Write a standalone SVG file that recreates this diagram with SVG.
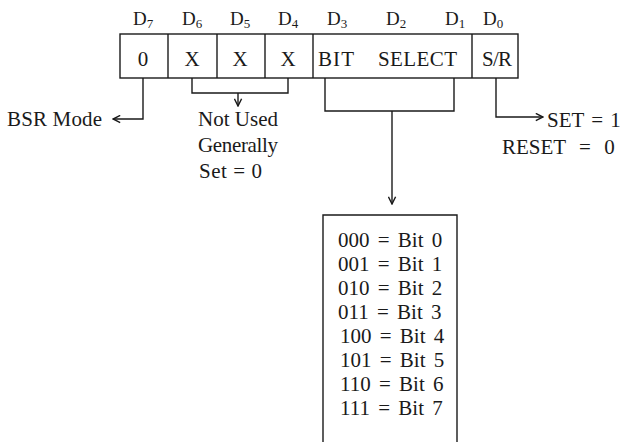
<svg xmlns="http://www.w3.org/2000/svg" width="623" height="442" viewBox="0 0 623 442">
<defs>
<style>
text{font-family:"Liberation Serif","Times New Roman",serif;fill:#1a1a1a;font-size:21px}
.d{font-size:19px}
.s{font-size:13px}
.c{text-anchor:middle}
.ln{fill:none;stroke:#1a1a1a;stroke-width:1.4}
.bits text{word-spacing:3px}
</style>
<marker id="ah" viewBox="0 0 10 10" refX="9" refY="5" markerWidth="9" markerHeight="9" markerUnits="userSpaceOnUse" orient="auto">
<path d="M1,1 L9,5 L1,9" fill="none" stroke="#1a1a1a" stroke-width="1.6"/>
</marker>
</defs>
<rect width="623" height="442" fill="#fff"/>
<g id="labels">
<text class="d" x="133" y="25">D<tspan class="s" dy="3">7</tspan></text>
<text class="d" x="182" y="25">D<tspan class="s" dy="3">6</tspan></text>
<text class="d" x="230" y="25">D<tspan class="s" dy="3">5</tspan></text>
<text class="d" x="278" y="25">D<tspan class="s" dy="3">4</tspan></text>
<text class="d" x="327" y="25">D<tspan class="s" dy="3">3</tspan></text>
<text class="d" x="386" y="25">D<tspan class="s" dy="3">2</tspan></text>
<text class="d" x="445" y="25">D<tspan class="s" dy="3">1</tspan></text>
<text class="d" x="483" y="25">D<tspan class="s" dy="3">0</tspan></text>
</g>
<g id="register">
<rect class="ln" x="120" y="34" width="398" height="44"/>
<line class="ln" x1="168" y1="34" x2="168" y2="78"/>
<line class="ln" x1="217" y1="34" x2="217" y2="78"/>
<line class="ln" x1="265" y1="34" x2="265" y2="78"/>
<line class="ln" x1="313" y1="34" x2="313" y2="78"/>
<line class="ln" x1="472" y1="34" x2="472" y2="78"/>
<text class="c" x="143" y="66">0</text>
<text class="c" x="192" y="66">X</text>
<text class="c" x="240" y="66">X</text>
<text class="c" x="288" y="66">X</text>
<text x="318" y="66" textLength="36">BIT</text>
<text x="378" y="66" textLength="79">SELECT</text>
<text x="482" y="66" textLength="30">S/R</text>
</g>
<g id="connectors">
<polyline class="ln" points="143,78 143,119 113,119" marker-end="url(#ah)"/>
<polyline class="ln" points="192,78 192,93 288,93 288,78"/>
<line class="ln" x1="238" y1="93" x2="238" y2="106" marker-end="url(#ah)"/>
<polyline class="ln" points="325,78 325,111 454,111 454,78"/>
<line class="ln" x1="392" y1="111" x2="392" y2="204" marker-end="url(#ah)"/>
<polyline class="ln" points="496,78 496,117 543,117" marker-end="url(#ah)"/>
</g>
<g id="bsr">
<text x="7" y="126" textLength="95">BSR Mode</text>
</g>
<g id="notused">
<text x="198" y="126" textLength="80">Not Used</text>
<text x="198" y="152" textLength="80">Generally</text>
<text x="199" y="178" textLength="63">Set = 0</text>
</g>
<g id="setreset">
<text x="547" y="127" style="word-spacing:2px">SET = 1</text>
<text x="502" y="154" style="word-spacing:8px">RESET = 0</text>
</g>
<g id="bitbox" class="bits">
<polyline class="ln" points="323,442 323,215 457,215 457,442"/>
<text x="338" y="247">000 = Bit 0</text>
<text x="338" y="271">001 = Bit 1</text>
<text x="338" y="295">010 = Bit 2</text>
<text x="338" y="319">011 = Bit 3</text>
<text x="340" y="343">100 = Bit 4</text>
<text x="340" y="367">101 = Bit 5</text>
<text x="340" y="391">110 = Bit 6</text>
<text x="340" y="415">111 = Bit 7</text>
</g>
</svg>
